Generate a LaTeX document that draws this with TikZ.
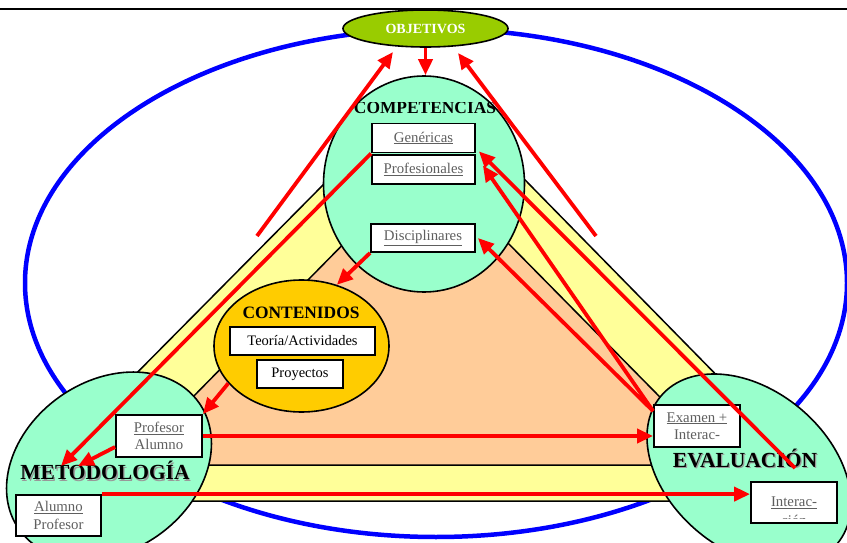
\documentclass[tikz,border=0pt]{standalone}
\usepackage{fontspec}
\setmainfont{Liberation Serif}
\usetikzlibrary{shapes.geometric,arrows.meta}
\definecolor{mint}{HTML}{99FFCC}
\definecolor{objgreen}{HTML}{99CC00}
\definecolor{trifill}{HTML}{FFFF99}
\definecolor{peach}{HTML}{FFCC99}
\definecolor{contc}{HTML}{FFCC00}
\definecolor{boxtxt}{HTML}{5F5F5F}
\definecolor{blueline}{HTML}{0000FF}
\definecolor{redline}{HTML}{FF0000}
\begin{document}
\begin{tikzpicture}[x=1pt,y=-1pt,
  bubble/.style={ellipse, draw=black, line width=1.6pt, inner sep=0pt},
  tbox/.style={rectangle, draw=black, line width=1.8pt, fill=white, inner sep=0pt, align=center},
  gtext/.style={text=boxtxt, font=\fontsize{14.8}{17.5}\selectfont},
  btext/.style={text=black, font=\fontsize{14.5}{17}\selectfont},
  arr/.style={draw=redline, line width=3.8pt, -{Triangle[length=16pt,width=14pt]}},
  bigtitle/.style={font=\bfseries\fontsize{21.5}{24}\selectfont, anchor=base, inner sep=0pt},
  midtitle/.style={font=\bfseries\fontsize{17.4}{20}\selectfont, anchor=base, inner sep=0pt}
]
\useasboundingbox (0,0) rectangle (847,543);
\clip (0,0) rectangle (847,543);

% outer blue ellipse and top rule
\draw[blueline, line width=4.5pt] (436,283) ellipse [x radius=411, y radius=254];
\draw[line width=2.2pt] (0,9) -- (847,9);

% triangles
\begin{scope}
  \clip (20,0) rectangle (835,543);
  \draw[fill=trifill, line width=1.5pt] (427,80) -- (10,501) -- (840,501) -- cycle;
  \draw[fill=peach, line width=1.5pt] (426,160) -- (126,465) -- (727,465) -- cycle;
\end{scope}

% bubbles
\node[bubble, fill=mint, minimum width=201pt, minimum height=216pt] (comp) at (424,184) {};
\node[bubble, fill=contc, minimum width=175pt, minimum height=132pt] (cont) at (301.5,346) {};
\node[bubble, fill=mint, minimum width=220pt, minimum height=170pt, rotate=35] (met) at (109,466) {};
\node[bubble, fill=mint, minimum width=230pt, minimum height=160pt, rotate=-40] (eva) at (749,470) {};
\node[bubble, fill=objgreen, minimum width=165pt, minimum height=37pt,
      text=white, font=\bfseries\fontsize{14}{16}\selectfont] (obj) at (425.5,28.5) {OBJETIVOS};

% titles
\begin{scope}
  \clip (300,103) rectangle (550,130);
  \node[midtitle] (complabel) at (425,113.5) {COMPETENCIAS};
\end{scope}
\node[midtitle] (contlabel) at (301,318) {CONTENIDOS};
\node[bigtitle, text=black!40] at (106.3,481) {METODOLOGÍA};
\node[bigtitle] (metlabel) at (105,479.7) {METODOLOGÍA};
\node[bigtitle, text=black!40] at (746.3,468.8) {EVALUACIÓN};
\node[bigtitle] (evalabel) at (745,467.5) {EVALUACIÓN};

% boxes
\node[tbox, gtext, minimum width=103pt, minimum height=29pt] (gen) at (423.5,138) {\underline{Genéricas}};
\node[tbox, gtext, minimum width=103pt, minimum height=29pt] (prof) at (423.5,169.5) {\underline{Profesionales}};
\node[tbox, gtext, minimum width=104pt, minimum height=28pt] (disc) at (423,238) {\underline{Disciplinares}};
\node[tbox, btext, minimum width=145pt, minimum height=28pt] (teo) at (302.5,341) {Teoría/Actividades};
\node[tbox, btext, minimum width=86pt, minimum height=28pt] (proy) at (300,374) {Proyectos};
\node[tbox, gtext, minimum width=86pt, minimum height=42pt] (pa) at (159,436) {\underline{Profesor}\\Alumno};
\node[tbox, gtext, minimum width=85pt, minimum height=41pt] (ap) at (58.5,515.5) {\underline{Alumno}\\Profesor};
\node[tbox, gtext, minimum width=86pt, minimum height=42pt] (ex) at (697,426) {\underline{Examen +}\\Interac-};
\node[tbox, gtext, minimum width=86pt, minimum height=41pt] (int) at (794,502.5) {\underline{Interac-}};
\begin{scope}
  \clip (752,480) rectangle (836,518.5);
  \node[gtext, anchor=base, inner sep=0pt] (cion) at (794,525.5) {\underline{ción}};
\end{scope}

% free ends
\coordinate (oL) at (393,52);
\coordinate (oR) at (458,53);
\coordinate (lL) at (257,236);
\coordinate (lR) at (596,236);
\coordinate (m1) at (61,466);
\coordinate (m2) at (78,466);
\coordinate (ev1) at (795,468);

% arrows
\draw[arr] (obj.south) -- (obj.south |- comp.north);
\draw[arr] (lL) -- (oL);
\draw[arr] (lR) -- (oR);
\draw[arr] (gen.south west) -- (m1);
\draw[arr] ([yshift=-11pt]pa.west) -- (m2);
\draw[arr] (disc.south west) -- (cont.60);
\draw[arr] (cont.207) -- (pa.north east);
\draw[arr] (pa.east) -- (pa.east -| ex.west);
\draw[arr] (ap.north east) -- (ap.north east -| int.west);
\draw[arr] ([yshift=-7pt]ex.north west) -- ([xshift=2pt]disc.east);
\draw[arr] ([yshift=-7pt]ex.north west) -- ([xshift=7pt,yshift=4pt]prof.east);
\draw[arr] (ev1) -- ([xshift=3pt,yshift=2pt]gen.south east);
\end{tikzpicture}
\end{document}
